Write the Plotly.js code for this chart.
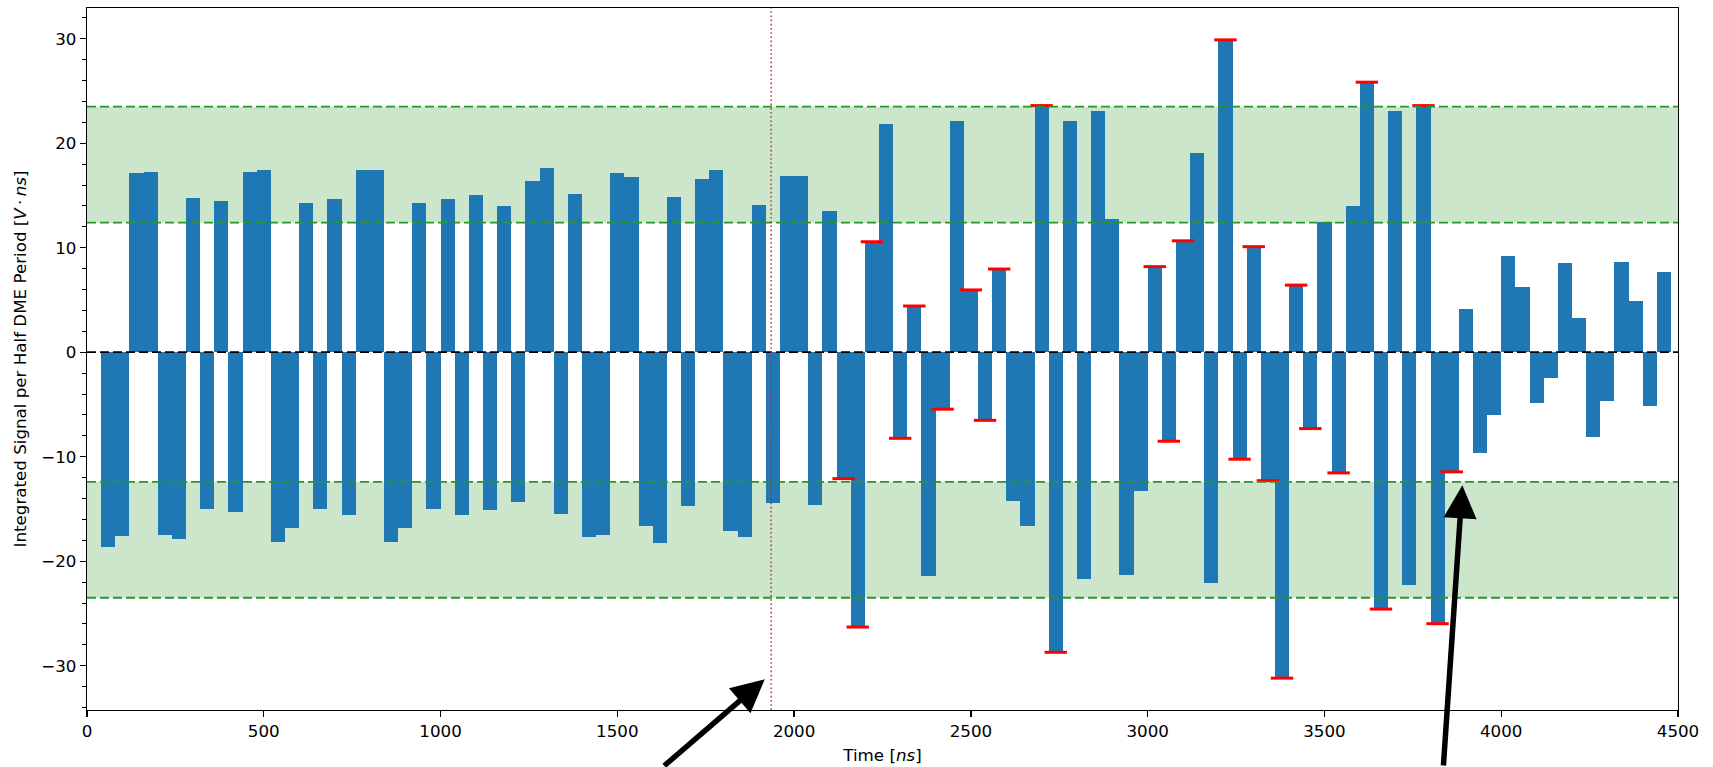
<!DOCTYPE html>
<html>
<head>
<meta charset="utf-8">
<script src="https://cdn.plot.ly/plotly-3.0.1.min.js"></script>
<style>
  html, body { margin: 0; padding: 0; background: #ffffff; }
  #chart { width: 1713px; height: 767px; }
</style>
</head>
<body>
<div id="chart"></div>
<script>
// ---- Data ----
// Start time of each half-DME-period bin [ns]
const binStart = [
  40, 80, 120, 160, 200, 240, 280, 320, 360, 400,
  440, 480, 520, 560, 600, 640, 680, 720, 760, 800,
  840, 880, 920, 960, 1000, 1040, 1080, 1120, 1160, 1200,
  1240, 1280, 1320, 1360, 1400, 1440, 1480, 1520, 1560, 1600,
  1640, 1680, 1720, 1760, 1800, 1840, 1880, 1920, 1960, 2000,
  2040, 2080, 2120, 2160, 2200, 2240, 2280, 2320, 2360, 2400,
  2440, 2480, 2520, 2560, 2600, 2640, 2680, 2720, 2760, 2800,
  2840, 2880, 2920, 2960, 3000, 3040, 3080, 3120, 3160, 3200,
  3240, 3280, 3320, 3360, 3400, 3440, 3480, 3520, 3560, 3600,
  3640, 3680, 3720, 3760, 3800, 3840, 3880, 3920, 3960, 4000,
  4040, 4080, 4120, 4160, 4200, 4240, 4280, 4320, 4360, 4400,
  4440
];
const binWidth = 40; // ns

// Integrated signal per half DME period [V·ns]
const integratedSignal = [
  -18.62, -17.60, 17.13, 17.27, -17.50, -17.83, 14.80, -15.04, 14.48, -15.27,
  17.27, 17.41, -18.16, -16.85, 14.25, -15.04, 14.71, -15.60, 17.41, 17.41,
  -18.16, -16.85, 14.25, -15.04, 14.71, -15.60, 15.04, -15.13, 13.97, -14.29,
  16.43, 17.64, -15.50, 15.13, -17.69, -17.50, 17.13, 16.81, -16.62, -18.25,
  14.90, -14.76, 16.57, 17.41, -17.13, -17.69, 14.11, -14.39, 16.90, 16.90,
  -14.62, 13.50, -12.10, -26.30, 10.57, 21.88, -8.24, 4.42, -21.42, -5.45,
  22.16, 5.96, -6.52, 7.96, -14.20, -16.62, 23.60, -28.72, 22.16, -21.74,
  23.04, 12.71, -21.28, -13.27, 8.19, -8.52, 10.66, 19.04, -22.07, 29.89,
  -10.24, 10.10, -12.29, -31.19, 6.42, -7.31, 12.43, -11.55, 13.97, 25.84,
  -24.58, 23.04, -22.25, 23.60, -25.98, -11.45, 4.10, -9.68, -6.05, 9.22,
  6.24, -4.89, -2.42, 8.57, 3.31, -8.15, -4.66, 8.66, 4.93, -5.12,
  7.64
];

// Bins marked with a red cap (bin start times, ns)
const flaggedBins = [
  2120, 2160, 2200, 2280, 2320, 2400, 2480, 2520, 2560, 2680,
  2720, 3000, 3040, 3080, 3200, 3240, 3280, 3320, 3360, 3400,
  3440, 3520, 3600, 3640, 3760, 3800, 3840
];

// Threshold bands [V·ns]
const innerThreshold = 12.4;
const outerThreshold = 23.5;
// Vertical marker time [ns]
const markerTime = 1935;
// Arrow targets (data coords)
const arrowTargets = [
  {t: 1917, v: -31.3},
  {t: 3890, v: -12.74}
];

// ---- Build traces ----
const centers = binStart.map(t => t + binWidth / 2);
const capX = [], capY = [];
flaggedBins.forEach(t => {
  const i = binStart.indexOf(t);
  if (i >= 0) { capX.push(centers[i]); capY.push(integratedSignal[i]); }
});

const barTrace = {
  type: 'bar',
  x: centers,
  y: integratedSignal,
  width: binWidth,
  marker: { color: '#1f77b4', line: { width: 0 } },
  hoverinfo: 'x+y',
  showlegend: false
};

const capTrace = {
  type: 'scatter',
  mode: 'markers',
  x: capX,
  y: capY,
  marker: { symbol: 'line-ew', size: 16, color: 'red', line: { color: 'red', width: 3 } },
  showlegend: false,
  cliponaxis: false
};

const greenLine = { color: 'rgb(40,150,40)', width: 1.8, dash: '9px,4px' };

const shapes = [
  // bands
  { type: 'rect', xref: 'paper', yref: 'y', x0: 0, x1: 1, y0: innerThreshold, y1: outerThreshold,
    fillcolor: 'rgba(0,128,0,0.2)', line: { width: 0 }, layer: 'below' },
  { type: 'rect', xref: 'paper', yref: 'y', x0: 0, x1: 1, y0: -outerThreshold, y1: -innerThreshold,
    fillcolor: 'rgba(0,128,0,0.2)', line: { width: 0 }, layer: 'below' },
  // threshold lines
  ...[outerThreshold, innerThreshold, -innerThreshold, -outerThreshold].map(v => ({
    type: 'line', xref: 'paper', yref: 'y', x0: 0, x1: 1, y0: v, y1: v, line: greenLine, layer: 'above'
  })),
  // zero line
  { type: 'line', xref: 'paper', yref: 'y', x0: 0, x1: 1, y0: 0, y1: 0,
    line: { color: 'black', width: 1.8, dash: '9px,4px' }, layer: 'above' },
  // vertical marker
  { type: 'line', xref: 'x', yref: 'paper', x0: markerTime, x1: markerTime, y0: 0, y1: 1,
    line: { color: 'rgb(185,40,40)', width: 1.4, dash: '1.6px,2.6px' }, layer: 'above' }
];

const annotations = [
  { x: arrowTargets[0].t, y: arrowTargets[0].v, xref: 'x', yref: 'y', text: '',
    showarrow: true, arrowhead: 2, arrowsize: 1.2, arrowwidth: 5.5, arrowcolor: 'black',
    ax: -102, ay: 88, standoff: 0 },
  { x: arrowTargets[1].t, y: arrowTargets[1].v, xref: 'x', yref: 'y', text: '',
    showarrow: true, arrowhead: 2, arrowsize: 1.2, arrowwidth: 5.5, arrowcolor: 'black',
    ax: -19, ay: 282, standoff: 0 }
];

const fontFamily = 'DejaVu Sans, sans-serif';
const fs = 16.7;

const layout = {
  width: 1713,
  height: 767,
  margin: { l: 87, r: 35, t: 8, b: 57 },
  paper_bgcolor: 'white',
  plot_bgcolor: 'white',
  font: { family: fontFamily, size: fs, color: 'black' },
  bargap: 0,
  showlegend: false,
  xaxis: {
    range: [0, 4500],
    tick0: 0, dtick: 500,
    ticks: 'outside', ticklen: 6, tickwidth: 1.3, tickcolor: 'black',
    showline: true, linecolor: 'black', linewidth: 1.2, mirror: true,
    showgrid: false, zeroline: false,
    tickfont: { family: fontFamily, size: fs, color: 'black' },
    title: { text: 'Time [<i>ns</i>]', font: { family: fontFamily, size: fs, color: 'black' }, standoff: 9 }
  },
  yaxis: {
    range: [-34.24, 32.94],
    tick0: 0, dtick: 10,
    ticks: 'outside', ticklen: 6, tickwidth: 1.3, tickcolor: 'black',
    minor: { dtick: 2, ticks: 'outside', ticklen: 3.5, tickwidth: 1, tickcolor: 'black', showgrid: false },
    showline: true, linecolor: 'black', linewidth: 1.2, mirror: true,
    showgrid: false, zeroline: false,
    tickfont: { family: fontFamily, size: fs, color: 'black' },
    title: { text: 'Integrated Signal per Half DME Period [<i>V</i>\u2009·\u2009<i>ns</i>]',
             font: { family: fontFamily, size: fs, color: 'black' }, standoff: 10 }
  },
  shapes: shapes,
  annotations: annotations
};

Plotly.newPlot('chart', [barTrace, capTrace], layout, { displayModeBar: false, staticPlot: true });
</script>
</body>
</html>
